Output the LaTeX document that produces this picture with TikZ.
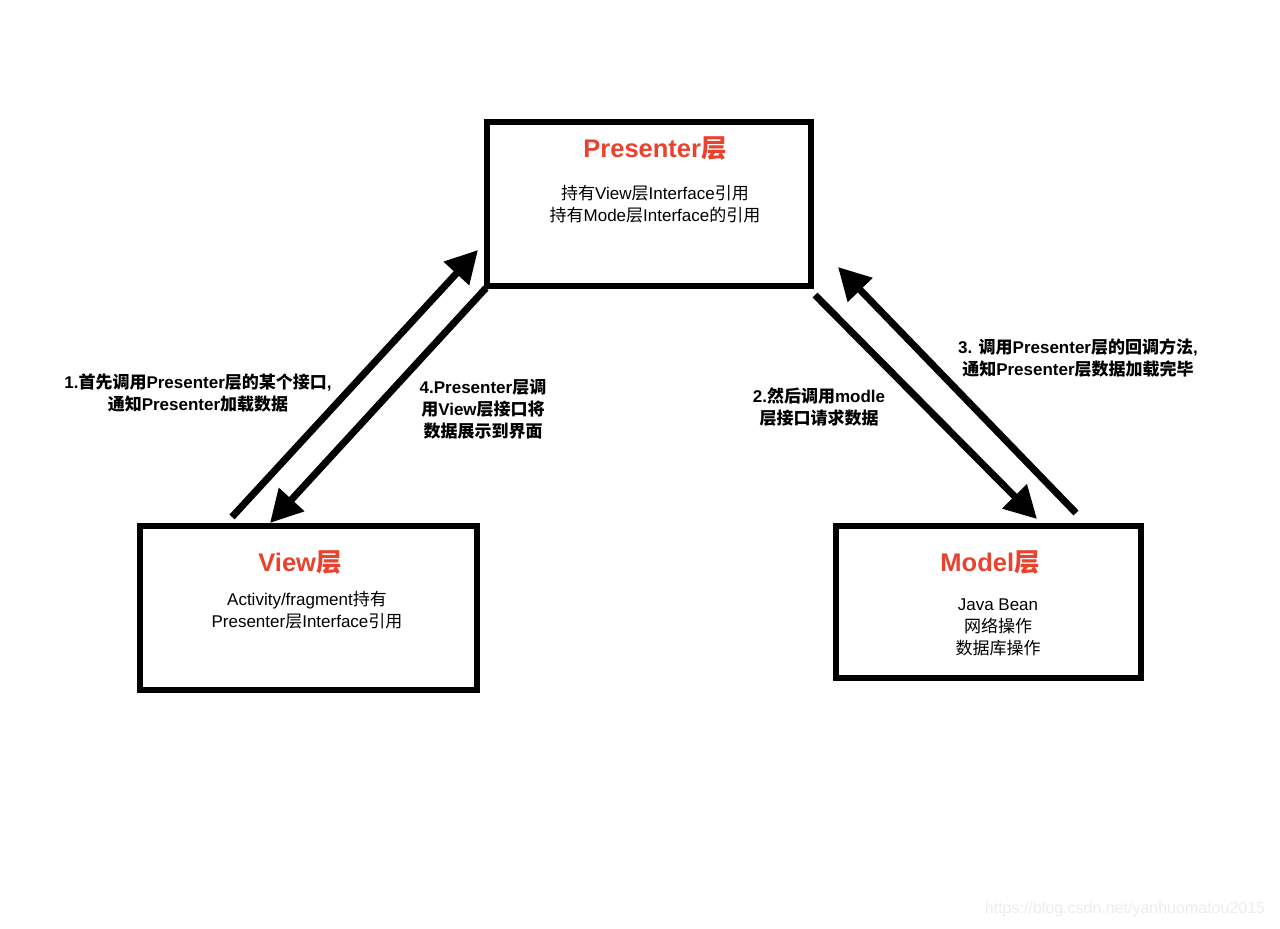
\documentclass[tikz,border=0pt]{standalone}
\usepackage{fontspec}
\setmainfont{Liberation Sans}
\newfontfamily\cjk{Noto Sans CJK SC}
\newcommand\C[1]{{\cjk #1}}
\usetikzlibrary{arrows.meta}
\definecolor{titlered}{RGB}{233,67,45}
\begin{document}
\begin{tikzpicture}[x=1pt,y=-1pt,
  box/.style={draw=black, line width=6.5pt, fill=white, inner sep=0pt, outer sep=0pt, anchor=north west},
  arr/.style={line width=7pt, -{Triangle[length=32pt,width=33pt]}},
  ttl/.style={text=titlered, font=\fontsize{25.5}{30}\selectfont\bfseries, inner sep=0pt},
  body/.style={align=center, font=\fontsize{17}{22}\selectfont, inner sep=0pt},
  lbl/.style={align=center, font=\fontsize{17}{22}\selectfont\bfseries, inner sep=0pt}]
\fill[white] (0,0) rectangle (1280,929);
\useasboundingbox (0,0) rectangle (1280,929);
% boxes
\node[box, minimum width=324pt, minimum height=164pt] (P) at (487,122) {};
\node[box, minimum width=337pt, minimum height=164pt] (V) at (140,526) {};
\node[box, minimum width=305pt, minimum height=152pt] (M) at (836,526) {};
% box texts
\node[ttl] (pt) at (655,148) {Presenter\C{层}};
\node[body] (pb) at (655,204) {\C{持有}View\C{层}Interface\C{引用}\\\C{持有}Mode\C{层}Interface\C{的引用}};
\node[ttl] (vt) at (300,562) {View\C{层}};
\node[body] (vb) at (307,610) {Activity/fragment\C{持有}\\Presenter\C{层}Interface\C{引用}};
\node[ttl] (mt) at (990,562) {Model\C{层}};
\node[body] (mb) at (998,627) {Java Bean\\\C{网络操作}\\\C{数据库操作}};
% connector end points
\coordinate (a1s) at (232,517);
\coordinate (a1e) at (478,250);
\coordinate (a4s) at (486,288);
\coordinate (a4e) at (270,523);
\coordinate (a2s) at (815,295);
\coordinate (a2e) at (1037,519);
\coordinate (a3s) at (1076,513);
\coordinate (a3e) at (838,267);
\draw[arr] (a1s) -- (a1e);
\draw[arr] (a4s) -- (a4e);
\draw[arr] (a2s) -- (a2e);
\draw[arr] (a3s) -- (a3e);
% labels
\node[lbl] (l1) at (198,393) {1.\C{首先调用}Presenter\C{层的某个接口}, \\\C{通知}Presenter\C{加载数据}};
\node[lbl] (l4) at (483,409) {4.Presenter\C{层调}\\\C{用}View\C{层接口将}\\\C{数据展示到界面}};
\node[lbl] (l2) at (819,407) {2.\C{然后调用}modle\\\C{层接口请求数据}};
\node[lbl] (l3) at (1078,358) {3. \C{调用}Presenter\C{层的回调方法},\\\C{通知}Presenter\C{层数据加载完毕}};
% watermark
\node[text=black!7, font=\fontsize{16}{18}\selectfont, inner sep=0pt] (wm) at (1125,909) {https://blog.csdn.net/yanhuomatou2015};
\end{tikzpicture}
\end{document}
